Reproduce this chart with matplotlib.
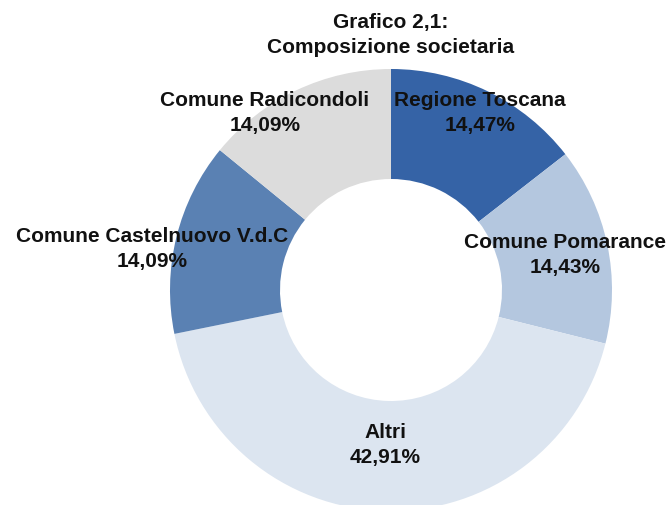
import matplotlib
matplotlib.use('Agg')
import matplotlib.pyplot as plt

labels = ['Regione Toscana', 'Comune Pomarance', 'Altri',
          'Comune Castelnuovo V.d.C', 'Comune Radicondoli']
values = [14.47, 14.43, 42.91, 14.09, 14.09]
colors = ['#3563A6', '#B4C7DF', '#DCE5F0', '#5A81B3', '#DCDCDC']
# label text centres in pixels (x, y from top)
label_pos = [(480, 113), (565, 255), (385, 445), (152, 249), (265, 113)]

W, H = 671, 506
fig = plt.figure(figsize=(W / 100, H / 100), dpi=100)
ax = fig.add_axes([0, 0, 1, 1])

ax.pie(values, colors=colors, startangle=90, counterclock=False,
       center=(391, H - 291), radius=221, frame=True,
       wedgeprops=dict(width=110, linewidth=0))
ax.set_xlim(0, W)
ax.set_ylim(0, H)
ax.set_aspect('equal')
ax.axis('off')

font = dict(family=['Liberation Sans', 'DejaVu Sans'], fontsize=15,
            fontweight='bold', color='#111111', ha='center', va='center',
            linespacing=1.38)

for lab, val, (x, y) in zip(labels, values, label_pos):
    txt = '{}\n{}%'.format(lab, '{:.2f}'.format(val).replace('.', ','))
    ax.text(x, H - y, txt, **font)

ax.text(391, H - 35, 'Grafico 2,1:\nComposizione societaria', **font)

fig.savefig('out.png', dpi=100)
